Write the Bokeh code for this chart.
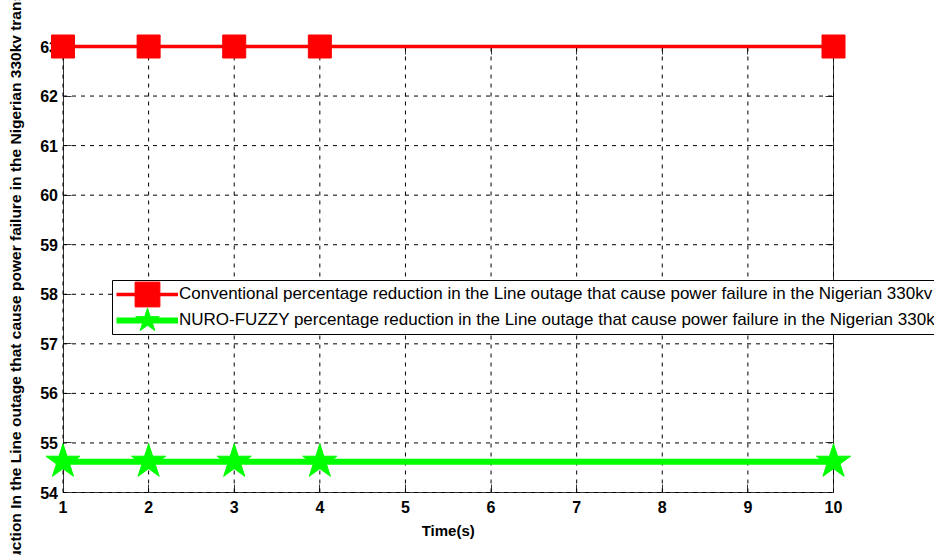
import math
from bokeh.plotting import figure
from bokeh.models import (Range1d, LinearAxis, FixedTicker, Label, Legend,
                          LegendItem, BoxAnnotation)
from bokeh.embed import file_html
from bokeh.resources import INLINE

# ---------------- data ----------------
time_s = [1, 2, 3, 4, 10]
conventional = [63, 63, 63, 63, 63]
nuro_fuzzy = [54.62, 54.62, 54.62, 54.62, 54.62]
x_ticks = [1, 2, 3, 4, 5, 6, 7, 8, 9, 10]
y_ticks = [54, 55, 56, 57, 58, 59, 60, 61, 62, 63]
x_label = "Time(s)"
y_label = ("Percentage reduction In the Line outage that cause power failure "
           "in the Nigerian 330kv transmission line")
legend_labels = [
    "Conventional percentage reduction in the Line outage that cause power "
    "failure in the Nigerian 330kv transmission line",
    "NURO-FUZZY percentage reduction in the Line outage that cause power "
    "failure in the Nigerian 330kv transmission line",
]

# ---------------- layout ----------------
W, H = 934, 555
AX_L, AX_R, AX_T, AX_B = 62.5, 833.0, 46.0, 492.0
x0, x1 = x_ticks[0], x_ticks[-1]
y0, y1 = y_ticks[0], y_ticks[-1]
kx = (AX_R - AX_L) / (x1 - x0)
ky = (AX_B - AX_T) / (y1 - y0)
x_range = Range1d(x0 - AX_L / kx, x1 + (W - AX_R) / kx)
y_range = Range1d(y0 - (H - AX_B) / ky, y1 + AX_T / ky)

FONT = "Liberation Sans"
AXC = "#333333"

p = figure(width=W, height=H, x_range=x_range, y_range=y_range,
           x_axis_type=None, y_axis_type=None, toolbar_location=None,
           output_backend="svg", min_border=0, title_location=None)
p.outline_line_color = None
p.background_fill_color = "white"
p.border_fill_color = "white"

# grid (dashed, bounded to the axes box)
nx, ny = len(x_ticks), len(y_ticks)
p.segment(x0=x_ticks, y0=[y0] * nx, x1=x_ticks, y1=[y1] * nx,
          line_color="black", line_width=1, line_dash="4 5")
p.segment(x0=[x0] * ny, y0=y_ticks, x1=[x1] * ny, y1=y_ticks,
          line_color="black", line_width=1, line_dash="4 5")

# series
r_line = p.line(time_s, conventional, line_color="#ff0000", line_width=3.5)
r_mark = p.scatter(time_s, conventional, marker="square", size=23,
                   fill_color="#ff0000", line_color="#ff0000")
g_line = p.line(time_s, nuro_fuzzy, line_color="#00ff00", line_width=6)
g_mark = p.scatter(time_s, nuro_fuzzy, marker="star", size=36,
                   fill_color="#00ff00", line_color="#00ff00")


def make_axis(loc, bounds, ticks, show_labels, standoff=5):
    ax = LinearAxis(fixed_location=loc, bounds=bounds,
                    ticker=FixedTicker(ticks=ticks, minor_ticks=[]))
    ax.major_tick_in = 8
    ax.major_tick_out = 0
    ax.minor_tick_in = 0
    ax.minor_tick_out = 0
    ax.axis_line_color = AXC
    ax.major_tick_line_color = AXC
    ax.level = "underlay"
    if show_labels:
        ax.major_label_text_font = FONT
        ax.major_label_text_font_style = "bold"
        ax.major_label_text_font_size = "16px"
        ax.major_label_text_color = "black"
        ax.major_label_standoff = standoff
    else:
        ax.major_label_text_color = None
    return ax


p.add_layout(make_axis(x0, (y0, y1), y_ticks, True, 5), "left")
p.add_layout(make_axis(y0, (x0, x1), x_ticks, True, 8), "below")
p.add_layout(make_axis(x1, (y0, y1), y_ticks, False), "right")
p.add_layout(make_axis(y1, (x0, x1), x_ticks, False), "above")

# axis titles
p.add_layout(Label(x=x0, y=(y0 + y1) / 2, x_offset=-48, y_offset=-18,
                   angle=math.pi / 2,
                   text=y_label, text_align="center", text_baseline="alphabetic",
                   text_font=FONT, text_font_style="bold",
                   text_font_size="15.5px", text_color="black"))
p.add_layout(Label(x=(x0 + x1) / 2, y=y0, y_offset=-29, text=x_label,
                   text_align="center", text_baseline="top",
                   text_font=FONT, text_font_style="bold",
                   text_font_size="15px", text_color="black"))

# legend frame + one legend row per series
box = BoxAnnotation(left=112, right=1200, top=H - 280, bottom=H - 334,
                    left_units="screen", right_units="screen",
                    top_units="screen", bottom_units="screen",
                    fill_color="white", fill_alpha=1.0,
                    line_color="black", line_alpha=1.0, line_width=1)
p.add_layout(box)

GW = 62
row_centres = [294, 320]
for label, rends, cy in zip(legend_labels, [[r_line, r_mark], [g_line, g_mark]],
                            row_centres):
    lg = Legend(items=[LegendItem(label=label, renderers=rends)],
                location=(116, H - (cy + GW / 2)), glyph_width=GW,
                glyph_height=GW, spacing=0, padding=0, margin=0,
                label_standoff=1, label_text_font=FONT,
                label_text_font_size="17px", label_text_color="black",
                border_line_alpha=0, background_fill_alpha=0)
    p.add_layout(lg)

open("out.html", "w").write(file_html(p, INLINE))
